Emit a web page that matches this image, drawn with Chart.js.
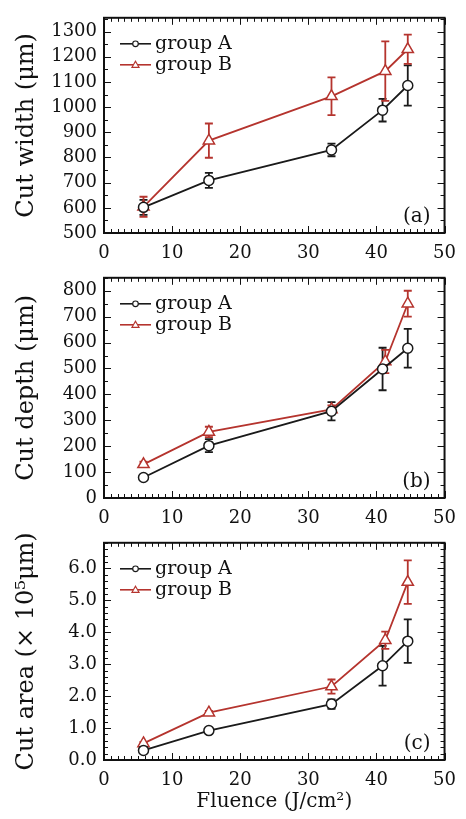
<!DOCTYPE html>
<html>
<head>
<meta charset="utf-8">
<script src="https://cdn.jsdelivr.net/npm/chart.js@4"></script>
<style>
  html, body { margin: 0; padding: 0; background: #fff; }
  body { width: 466px; height: 819px; position: relative; overflow: hidden; }
  canvas { position: absolute; left: 0; }
</style>
</head>
<body>
<canvas id="cw" width="466" height="260" style="top:0px"></canvas>
<canvas id="cd" width="466" height="265" style="top:260px"></canvas>
<canvas id="ca" width="466" height="294" style="top:525px"></canvas>
<script>
// fluence (J/cm2)
const fluenceA = [5.8, 15.4, 33.4, 40.9, 44.6];
const fluenceB = [5.8, 15.4, 33.4, 41.3, 44.6];

// (a) cut width, um
const widthA    = [602, 709, 830, 988, 1086];
const widthAErr = [30, 30, 25, 45, 80];
const widthB    = [604, 867, 1043, 1143, 1230];
const widthBErr = [40, 68, 75, 118, 58];

// (b) cut depth, um
const depthA    = [79, 202, 335, 498, 578];
const depthAErr = [10, 25, 35, 82, 75];
const depthB    = [130, 255, 342, 527, 750];
const depthBErr = [10, 20, 15, 45, 50];

// (c) cut area, x10^5 um
const areaA    = [0.30, 0.92, 1.75, 2.95, 3.72];
const areaAErr = [0.05, 0.05, 0.15, 0.62, 0.68];
const areaB    = [0.52, 1.48, 2.30, 3.75, 5.57];
const areaBErr = [0.05, 0.06, 0.22, 0.27, 0.68];

// tick labels
const xTicks = [0, 10, 20, 30, 40, 50];
const widthTicks = [500, 600, 700, 800, 900, 1000, 1100, 1200, 1300];
const depthTicks = [0, 100, 200, 300, 400, 500, 600, 700, 800];
const areaTicks = [0, 1, 2, 3, 4, 5, 6];

const BLACK = "#1a1a1a";
const RED = "#b5342e";
const FONT = '"DejaVu Serif", serif';

Chart.defaults.font.family = FONT;
Chart.defaults.color = "#111";

function pts(xs, ys) { return xs.map((x, i) => ({ x: x, y: ys[i] })); }

// frame, inward ticks, error bars, legend and panel label
const framePlugin = {
  id: "frame",
  beforeDatasetsDraw(chart) {
    const ctx = chart.ctx, xs = chart.scales.x, ys = chart.scales.y;
    ctx.save();
    ctx.lineWidth = 1.8;
    chart.data.datasets.forEach((ds) => {
      ctx.strokeStyle = ds.borderColor;
      ds.data.forEach((p, i) => {
        const e = ds.errors[i];
        const px = xs.getPixelForValue(p.x);
        const y1 = ys.getPixelForValue(p.y - e), y2 = ys.getPixelForValue(p.y + e);
        ctx.beginPath();
        ctx.moveTo(px, y1); ctx.lineTo(px, y2);
        ctx.moveTo(px - 4, y1); ctx.lineTo(px + 4, y1);
        ctx.moveTo(px - 4, y2); ctx.lineTo(px + 4, y2);
        ctx.stroke();
      });
    });
    ctx.restore();
  },
  afterDraw(chart, args, o) {
    const ctx = chart.ctx, a = chart.chartArea, xs = chart.scales.x, ys = chart.scales.y;
    ctx.save();
    ctx.strokeStyle = "#111";
    ctx.lineWidth = 1;
    ctx.beginPath();
    for (let v = xs.min; v <= xs.max + 1e-9; v += o.minorX) {
      const px = Math.round(xs.getPixelForValue(v)) + 0.5;
      const major = Math.abs(v / 10 - Math.round(v / 10)) < 1e-6;
      const l = major ? 7 : 4;
      ctx.moveTo(px, a.bottom); ctx.lineTo(px, a.bottom - l);
      ctx.moveTo(px, a.top); ctx.lineTo(px, a.top + l);
    }
    for (let v = ys.min; v <= ys.max + 1e-9; v += o.minorY) {
      const py = Math.round(ys.getPixelForValue(v)) + 0.5;
      const r = v / o.majorY;
      const major = Math.abs(r - Math.round(r)) < 1e-6;
      const l = major ? 7 : 4;
      ctx.moveTo(a.left, py); ctx.lineTo(a.left + l, py);
      ctx.moveTo(a.right, py); ctx.lineTo(a.right - l, py);
    }
    ctx.stroke();
    ctx.lineWidth = 2;
    ctx.strokeRect(a.left, a.top, a.right - a.left, a.bottom - a.top);

    // legend
    ctx.font = "19px " + FONT;
    ctx.textBaseline = "middle";
    ctx.fillStyle = "#111";
    chart.data.datasets.forEach((ds, i) => {
      const y = a.top + 26 + i * 21;
      const x0 = a.left + 16, x1 = a.left + 47, xm = (x0 + x1) / 2;
      ctx.strokeStyle = ds.borderColor;
      ctx.lineWidth = 1.6;
      ctx.beginPath(); ctx.moveTo(x0, y); ctx.lineTo(x1, y); ctx.stroke();
      ctx.fillStyle = "#fff";
      ctx.lineWidth = 1.2;
      ctx.beginPath();
      if (ds.pointStyle === "triangle") {
        ctx.moveTo(xm, y - 3.5); ctx.lineTo(xm + 3.5, y + 2.5); ctx.lineTo(xm - 3.5, y + 2.5); ctx.closePath();
      } else {
        ctx.arc(xm, y, 2.8, 0, Math.PI * 2);
      }
      ctx.fill(); ctx.stroke();
      ctx.fillStyle = "#111";
      ctx.textAlign = "left";
      ctx.fillText(ds.label, a.left + 51, y);
    });

    // panel label
    ctx.font = "20px " + FONT;
    ctx.textAlign = "right";
    ctx.fillText(o.label, a.right - 14, a.bottom - 16);
    ctx.restore();
  }
};

function makeChart(id, cfg) {
  return new Chart(document.getElementById(id), {
    type: "line",
    data: {
      datasets: [
        { label: "group A", data: pts(fluenceA, cfg.a), errors: cfg.aErr,
          borderColor: BLACK, backgroundColor: "#fff", borderWidth: 1.8,
          pointStyle: "circle", pointRadius: 5, pointBorderWidth: 1.5,
          pointBackgroundColor: "#fff", pointBorderColor: BLACK, tension: 0 },
        { label: "group B", data: pts(fluenceB, cfg.b), errors: cfg.bErr,
          borderColor: RED, backgroundColor: "#fff", borderWidth: 1.8,
          pointStyle: "triangle", pointRadius: 6.5, pointBorderWidth: 1.5,
          pointBackgroundColor: "#fff", pointBorderColor: RED, tension: 0 }
      ]
    },
    options: {
      responsive: false,
      animation: false,
      devicePixelRatio: 1,
      layout: { padding: { left: 0, right: 15, top: cfg.padTop, bottom: 0 } },
      plugins: {
        legend: { display: false },
        tooltip: { enabled: false },
        frame: { minorX: 1, minorY: cfg.minorY, majorY: cfg.step, label: cfg.label }
      },
      scales: {
        x: {
          type: "linear", min: 0, max: 50,
          afterBuildTicks: (s) => { s.ticks = xTicks.map((v) => ({ value: v })); },
          afterFit: (s) => { s.height = cfg.xHeight; },
          grid: { display: false, drawTicks: false },
          border: { display: false },
          ticks: { font: { size: 18 }, padding: 10, maxRotation: 0, autoSkip: false },
          title: cfg.xTitle ? { display: true, text: cfg.xTitle, font: { size: 20 }, padding: { top: 0, bottom: 5 } } : { display: false }
        },
        y: {
          type: "linear", min: cfg.min, max: cfg.max,
          afterBuildTicks: (s) => { s.ticks = cfg.ticks.map((v) => ({ value: v })); },
          afterFit: (s) => { s.width = 104; },
          grid: { display: false, drawTicks: false },
          border: { display: false },
          ticks: { font: { size: 18 }, padding: 7, autoSkip: false, callback: cfg.fmt },
          title: { display: true, text: cfg.yTitle, font: { size: 24 }, padding: { top: 12, bottom: 0 } }
        }
      }
    },
    plugins: [framePlugin]
  });
}

makeChart("cw", {
  a: widthA, aErr: widthAErr, b: widthB, bErr: widthBErr, ticks: widthTicks,
  min: 500, max: 1355, step: 100, minorY: 50, label: "(a)",
  yTitle: "Cut width (μm)", padTop: 8, xHeight: 27,
  fmt: (v) => String(v)
});
makeChart("cd", {
  a: depthA, aErr: depthAErr, b: depthB, bErr: depthBErr, ticks: depthTicks,
  min: 0, max: 850, step: 100, minorY: 50, label: "(b)",
  yTitle: "Cut depth (μm)", padTop: 12, xHeight: 27,
  fmt: (v) => String(v)
});
makeChart("ca", {
  a: areaA, aErr: areaAErr, b: areaB, bErr: areaBErr, ticks: areaTicks,
  min: 0, max: 6.8, step: 1, minorY: 0.2, label: "(c)",
  yTitle: "Cut area (× 10⁵μm)", padTop: 9, xHeight: 59,
  xTitle: "Fluence (J/cm²)",
  fmt: (v) => v.toFixed(1)
});
</script>
</body>
</html>
